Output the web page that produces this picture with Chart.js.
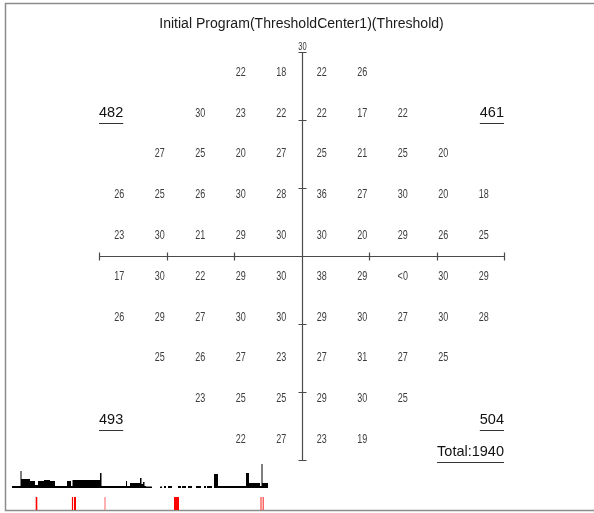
<!DOCTYPE html>
<html>
<head>
<meta charset="utf-8">
<script src="https://cdn.jsdelivr.net/npm/chart.js@4/dist/chart.umd.min.js"></script>
<style>
  html, body { margin: 0; padding: 0; background: #fff; }
  #wrap { position: relative; width: 594px; height: 513px; }
  #main { position: absolute; left: 0; top: 0; }
  #hist { position: absolute; left: 12px; top: 458px; }
</style>
</head>
<body>
<div id="wrap">
  <canvas id="main" width="594" height="513"></canvas>
  <canvas id="hist" width="256" height="54"></canvas>
</div>
<script>
// ---------------- DATA ----------------
const titleText = 'Initial Program(ThresholdCenter1)(Threshold)';
const colDeg = [-27, -21, -15, -9, -3, 3, 9, 15, 21, 27];
const rowDeg = [27, 21, 15, 9, 3, -3, -9, -15, -21, -27];
const row1  = [null, null, null, 22, 18, 22, 26, null, null, null];
const row2  = [null, null, 30, 23, 22, 22, 17, 22, null, null];
const row3  = [null, 27, 25, 20, 27, 25, 21, 25, 20, null];
const row4  = [26, 25, 26, 30, 28, 36, 27, 30, 20, 18];
const row5  = [23, 30, 21, 29, 30, 30, 20, 29, 26, 25];
const row6  = [17, 30, 22, 29, 30, 38, 29, '<0', 30, 29];
const row7  = [26, 29, 27, 30, 30, 29, 30, 27, 30, 28];
const row8  = [null, 25, 26, 27, 23, 27, 31, 27, 25, null];
const row9  = [null, null, 23, 25, 25, 29, 30, 25, null, null];
const row10 = [null, null, null, 22, 27, 23, 19, null, null, null];
const gridRows = [row1, row2, row3, row4, row5, row6, row7, row8, row9, row10];
const axisTicks = [-30, -20, -10, 0, 10, 20, 30];
const axisTopLabel = '30';
const quadSums = ['482', '461', '493', '504'];   // UL, UR, LL, LR
const totalLabel = 'Total:1940';

// histogram (step series): bin start and height
const histX = [12, 20.5, 21.5, 30, 35, 38, 44, 50, 55, 67, 71, 72.5, 100, 101.5, 126, 127, 130, 140, 141.5, 143, 144.5,
  146, 152, 160, 162, 164, 166, 168, 172, 178, 181, 182, 186, 188, 192, 196, 201, 204, 206, 207, 212,
  214, 218, 246, 249, 260, 261.5, 262.5, 268];
const histY = [2, 17, 9, 7, 3, 7, 8, 7, 2, 7, 2, 8, 15, 2, 7, 2, 5, 10, 4, 6, 2,
  1.5, 0, 1.5, 0, 2, 0, 2, 0, 2, 0, 2, 0, 2, 0, 2, 0, 2, 0, 2, 0,
  14, 2, 15, 5, 2, 24, 5, 0];
// red marks below histogram
const markX = [36.5, 72.5, 75, 105, 176.5, 261, 263.2];
const markW = [1.6, 1.2, 2, 1.4, 5, 1, 1];
const markColor = ['#ff0000', '#ff0000', '#ff0000', '#ff9090', '#ff0000', '#ff2020', '#ff2020'];

// ---------------- BUILD ----------------
const points = [];
gridRows.forEach((row, i) => {
  row.forEach((v, j) => {
    if (v !== null) points.push({ x: colDeg[j], y: rowDeg[i], v: String(v) });
  });
});

const fieldPlugin = {
  id: 'fieldPlugin',
  afterDraw(chart) {
    const ctx = chart.ctx;
    const xs = chart.scales.x, ys = chart.scales.y;
    const ca = chart.chartArea;
    ctx.save();
    // frame
    ctx.strokeStyle = '#8c8c8c';
    ctx.lineWidth = 1.5;
    ctx.beginPath();
    ctx.moveTo(594, 3.5); ctx.lineTo(5.5, 3.5); ctx.lineTo(5.5, 510.5); ctx.lineTo(594, 510.5);
    ctx.stroke();

    // title
    ctx.fillStyle = '#1a1a1a';
    ctx.font = '14.5px "Liberation Sans", Arial, sans-serif';
    ctx.textAlign = 'center';
    ctx.textBaseline = 'middle';
    ctx.save();
    ctx.translate((ca.left + ca.right) / 2, 24);
    ctx.scale(0.97, 1.05);
    ctx.fillText(titleText, 0, 0);
    ctx.restore();

    // axes
    const x0 = Math.round(xs.getPixelForValue(0)) + 0.5;
    const y0 = Math.round(ys.getPixelForValue(0)) + 0.5;
    ctx.strokeStyle = '#4a4a4a';
    ctx.lineWidth = 1.2;
    ctx.beginPath();
    ctx.moveTo(xs.getPixelForValue(-30), y0); ctx.lineTo(xs.getPixelForValue(30), y0);
    ctx.moveTo(x0, ys.getPixelForValue(30)); ctx.lineTo(x0, ys.getPixelForValue(-30));
    axisTicks.forEach(t => {
      if (t === 0) return;
      const px = Math.round(xs.getPixelForValue(t)) + 0.5;
      ctx.moveTo(px, y0 - 4); ctx.lineTo(px, y0 + 4);
      const py = Math.round(ys.getPixelForValue(t)) + 0.5;
      ctx.moveTo(x0 - 4, py); ctx.lineTo(x0 + 4, py);
    });
    ctx.stroke();

    const condensed = (text, x, y, sx) => {
      ctx.save();
      ctx.translate(x, y);
      ctx.scale(sx, 1);
      ctx.fillText(text, 0, 0);
      ctx.restore();
    };
    ctx.fillStyle = '#333';
    ctx.font = '10px "Liberation Sans", Arial, sans-serif';
    ctx.textAlign = 'center';
    condensed(axisTopLabel, x0, ys.getPixelForValue(30) - 5, 0.75);

    // values
    const meta = chart.getDatasetMeta(0);
    ctx.fillStyle = '#3c3c3c';
    ctx.font = '12px "Liberation Sans", Arial, sans-serif';
    ctx.textAlign = 'center';
    ctx.textBaseline = 'middle';
    meta.data.forEach((el, i) => {
      condensed(points[i].v, el.x, el.y, 0.75);
    });

    // quadrant sums
    ctx.font = '14.5px "Liberation Sans", Arial, sans-serif';
    ctx.fillStyle = '#111';
    ctx.strokeStyle = '#333';
    ctx.lineWidth = 1;
    const lab = (text, xv, yv, align, uy) => {
      const px = xs.getPixelForValue(xv);
      const py = ys.getPixelForValue(yv);
      ctx.textAlign = align;
      ctx.fillText(text, px, py);
      const w = ctx.measureText(text).width;
      const ux = align === 'left' ? px : px - w;
      const uyp = Math.round(ys.getPixelForValue(uy)) + 0.5;
      ctx.beginPath(); ctx.moveTo(ux, uyp); ctx.lineTo(ux + w, uyp); ctx.stroke();
    };
    lab(quadSums[0], -30, 21.1, 'left', 19.6);
    lab(quadSums[1], 30, 21.1, 'right', 19.6);
    lab(quadSums[2], -30, -24.1, 'left', -25.6);
    lab(quadSums[3], 30, -24.1, 'right', -25.6);
    lab(totalLabel, 30, -28.8, 'right', -30.3);
    ctx.restore();
  }
};

new Chart(document.getElementById('main'), {
  type: 'scatter',
  data: { datasets: [{ data: points, pointRadius: 0, pointHoverRadius: 0 }] },
  options: {
    responsive: false,
    animation: false,
    events: [],
    layout: { autoPadding: false, padding: { left: 99, right: 90, top: 52, bottom: 53 } },
    scales: {
      x: { type: 'linear', min: -30, max: 30, display: false },
      y: { type: 'linear', min: -30, max: 30, display: false }
    },
    plugins: { legend: { display: false }, tooltip: { enabled: false }, title: { display: false } }
  },
  plugins: [fieldPlugin]
});

const histPts = histX.map((x, i) => ({ x: x, y: histY[i] }));
const markPts = markX.map(x => ({ x: x, y: -15.5 }));
new Chart(document.getElementById('hist'), {
  type: 'line',
  data: {
    datasets: [
      { data: histPts, stepped: true, fill: 'origin', backgroundColor: '#000', borderWidth: 0, pointRadius: 0 },
      { type: 'scatter', data: markPts, pointStyle: 'line', rotation: 90, pointRadius: 6.5,
        pointBorderWidth: markW, pointBorderColor: markColor, pointBackgroundColor: markColor, showLine: false }
    ]
  },
  options: {
    responsive: false,
    animation: false,
    events: [],
    layout: { autoPadding: false, padding: 0 },
    scales: {
      x: { type: 'linear', min: 12, max: 268, display: false },
      y: { type: 'linear', min: -24, max: 30, display: false }
    },
    plugins: { legend: { display: false }, tooltip: { enabled: false } }
  }
});
</script>
</body>
</html>
